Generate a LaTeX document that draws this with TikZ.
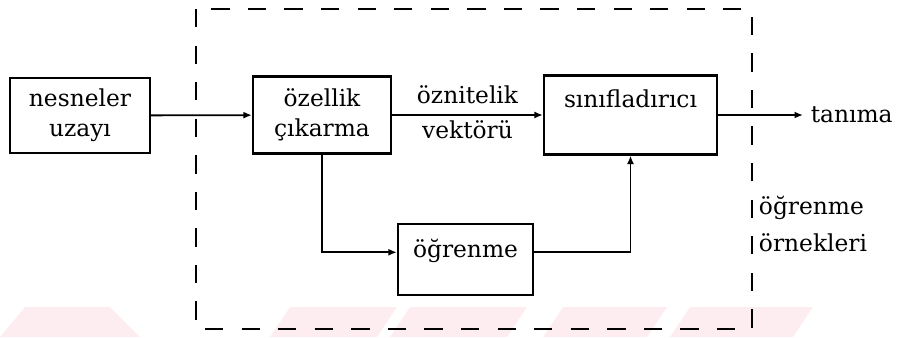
\documentclass[tikz,border=0pt]{standalone}
\usepackage{fontspec}
\setmainfont{DejaVu Serif}
\usepackage{tikz}
\usetikzlibrary{positioning,arrows.meta}
\definecolor{wmpink}{RGB}{254,237,240}

\begin{document}
\begin{tikzpicture}[x=0.025cm, y=-0.025cm,
  font=\fontsize{16.6}{21.3}\selectfont,
  blok/.style={draw, line width=1.6pt, align=center},
  ok/.style={-{Latex[length=6pt,width=5pt]}, line width=1.3pt},
  kesik/.style={line width=1.5pt, dash pattern=on 13pt off 13pt}]
\useasboundingbox (0,0) rectangle (901,337);
% light stripes along the bottom edge
\fill[wmpink] (25,307) -- (110,307) -- (140,337) -- (0,337) -- cycle;
\foreach \a/\b in {290/397, 410/527, 563/667, 690/813}
  \fill[wmpink] (\a,307) -- (\b,307) -- (\b-20,337) -- (\a-20,337) -- cycle;
\draw[kesik] (196,9) rectangle (752,329);
\node[blok, minimum width=3.5cm, minimum height=1.875cm] (nes) at (80,115.5) {nesneler\\uzayı};
\node[blok, minimum width=3.45cm, minimum height=1.925cm] (ozl) at (322,115) {özellik\\çıkarma};
\node[blok, minimum width=4.325cm, minimum height=1.975cm, text depth=23pt] (sin) at (630.5,115) {sınıfladırıcı};
\node[blok, minimum width=3.375cm, minimum height=1.775cm, text depth=16.5pt] (ogr) at (465.5,259.5) {öğrenme};
\coordinate (out) at (803,115);
\node[right=2pt of out] (tan) {tanıma};
\node[anchor=west, align=left] (ornek) at (754,224) {öğrenme\\[5pt]örnekleri};
\draw[ok] (nes) -- (ozl);
\draw[ok] (ozl) -- (sin)
  node[midway, above=4pt] (vec1) {öznitelik}
  node[midway, below] (vec2) {vektörü};
\draw[ok] (sin) -- (out);
\draw[ok] (ozl.south) |- (ogr.174);
\draw[ok] (ogr.6) -| (sin.south);
\end{tikzpicture}
\end{document}
